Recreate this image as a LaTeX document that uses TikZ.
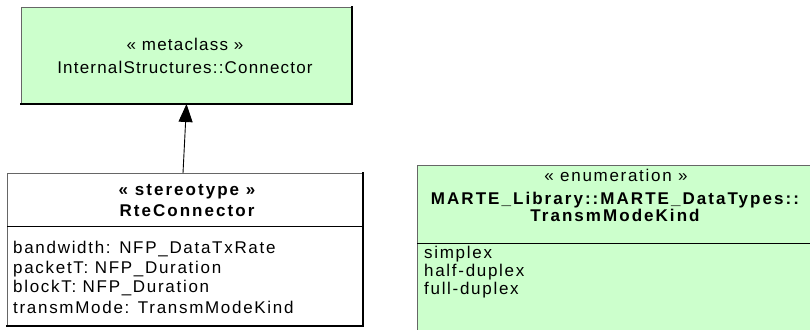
\documentclass[tikz,border=0pt]{standalone}
\usepackage{fontspec}
\setmainfont{Liberation Sans}[LetterSpace=10, BoldFeatures={LetterSpace=12}]
\usetikzlibrary{arrows.meta,calc}
\definecolor{umlgreen}{HTML}{CCFFCC}
\begin{document}
\begin{tikzpicture}[x=1pt,y=-1pt,
  font=\fontsize{17}{19}\selectfont,
  umlbox/.style={rectangle, draw=black!60, line width=0.8pt, inner sep=0pt, outer sep=0pt, anchor=north west},
  shadowedge/.style={draw=black, line width=1.4pt, line cap=rect},
  sepline/.style={draw=black, line width=0.9pt},
  txt/.style={inner sep=0pt, anchor=base},
  txtl/.style={inner sep=0pt, anchor=base west},
  gen/.style={draw=black, line width=0.9pt, -{Triangle[length=18pt,width=14pt]}}]
\useasboundingbox (0,0) rectangle (810,329);
% metaclass box
\node[umlbox, fill=umlgreen, minimum width=331pt, minimum height=97pt] (meta) at (21,7) {};
\draw[shadowedge] (meta.north east) -- (meta.south east) -- (meta.south west);
\node[txt, font=\fontsize{17}{19}\selectfont\addfontfeature{LetterSpace=7}] (metaSt) at (185,51) {« metaclass »};
\node[txt, font=\fontsize{17}{19}\selectfont\addfontfeature{LetterSpace=7}] (metaName) at (185,74) {InternalStructures::Connector};
% stereotype box
\node[umlbox, fill=white, minimum width=356pt, minimum height=153pt] (rte) at (7,173) {};
\draw[shadowedge] (rte.north east) -- (rte.south east) -- (rte.south west);
\draw[sepline] (rte.west |- 0,226) -- (rte.east |- 0,226);
\node[txt] (rteSt) at (187,195) {\bfseries « stereotype »};
\node[txt] (rteName) at (187,216) {\bfseries RteConnector};
\node[txtl] (a1) at (13,253) {bandwidth: NFP\_DataTxRate};
\node[txtl] (a2) at (13,273) {packetT: NFP\_Duration};
\node[txtl] (a3) at (13,292) {blockT: NFP\_Duration};
\node[txtl] (a4) at (13,313) {transmMode: TransmModeKind};
% enumeration box
\node[umlbox, fill=umlgreen, minimum width=400pt, minimum height=175pt] (enum) at (417,165) {};
\draw[sepline] (enum.west |- 0,243) -- (enum.east |- 0,243);
\node[txt] (enSt) at (616,181) {« enumeration »};
\node[txt] (enName1) at (615,204) {\bfseries MARTE\_Library::MARTE\_DataTypes::};
\node[txt] (enName2) at (615,221) {\bfseries TransmModeKind};
\node[txtl] (l1) at (424,258) {simplex};
\node[txtl] (l2) at (424,276) {half-duplex};
\node[txtl] (l3) at (424,294) {full-duplex};
% generalization
\draw[gen] ($(rte.north)+(-2,0)$) -- (meta.south);
\end{tikzpicture}
\end{document}
